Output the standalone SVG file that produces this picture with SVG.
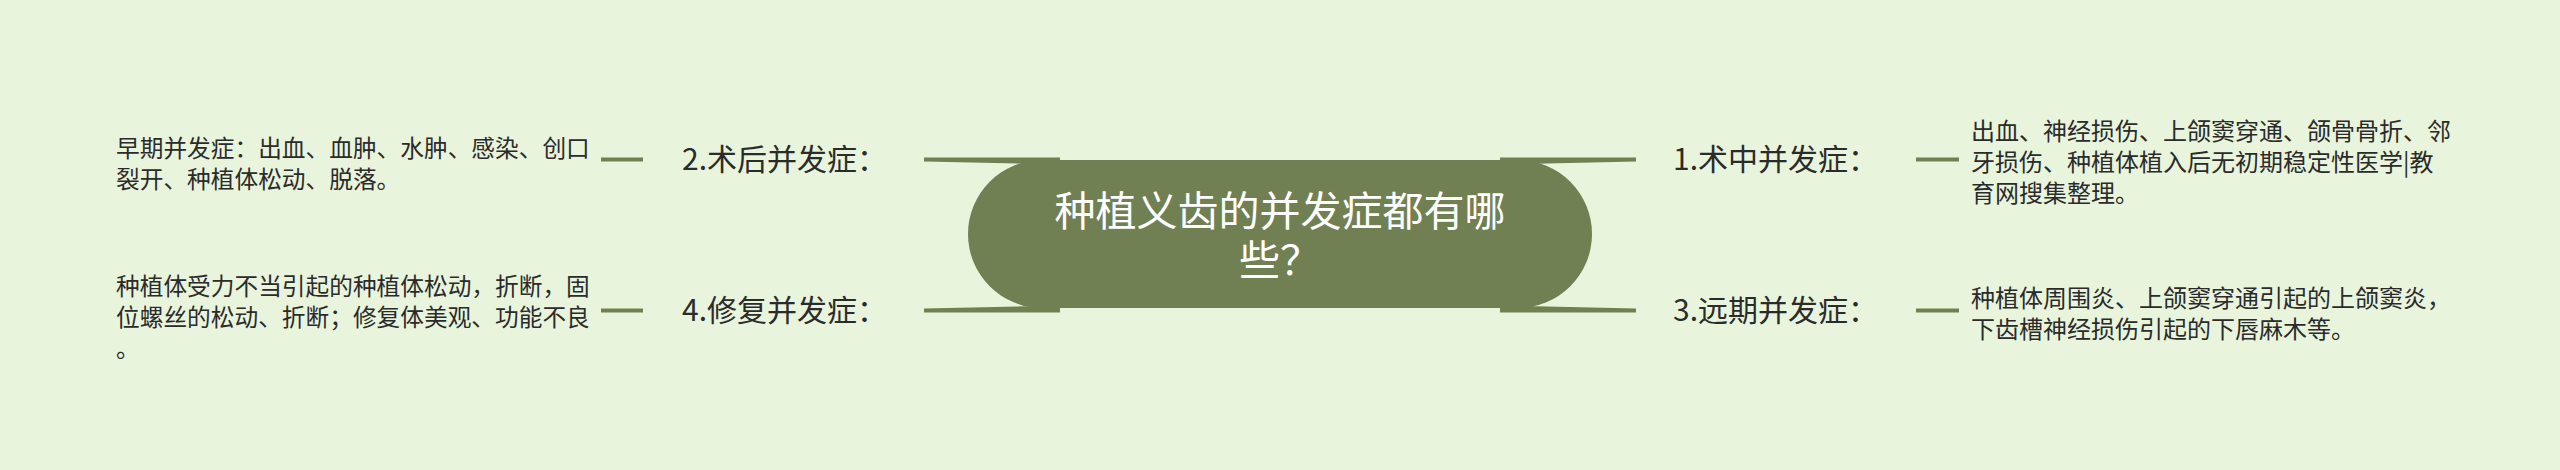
<svg xmlns="http://www.w3.org/2000/svg" width="2560" height="470" viewBox="0 0 2560 470">
<style>
.t{font-family:"Noto Sans CJK SC","Noto Sans",sans-serif;fill:#2b2b2b;}
.lbl{font-size:30px;}
.det{font-size:24px;}
.detl{font-size:23.7px;}
.ctr{font-family:"Noto Sans CJK SC","Noto Sans",sans-serif;font-size:41px;fill:#ffffff;}
.br{fill:#718052;}
.sl{stroke:#718052;stroke-width:4;}
</style>
<rect x="0" y="0" width="2560" height="470" fill="#e8f5dc"/>
<g id="connectors">
<path class="br" d="M924,157.5 L1060,157.5 L1060,172 L1035,164 L924,161.5 Z"/>
<path class="br" d="M924,312.5 L1060,312.5 L1060,298 L1035,306 L924,308.5 Z"/>
<path class="br" d="M1636,157.5 L1500,157.5 L1500,172 L1525,164 L1636,161.5 Z"/>
<path class="br" d="M1636,312.5 L1500,312.5 L1500,298 L1525,306 L1636,308.5 Z"/>
<line class="sl" x1="601" y1="159.5" x2="643" y2="159.5"/>
<line class="sl" x1="601" y1="310.5" x2="643" y2="310.5"/>
<line class="sl" x1="1916" y1="159.5" x2="1959" y2="159.5"/>
<line class="sl" x1="1916" y1="310.5" x2="1959" y2="310.5"/>
</g>
<g id="center">
<rect x="968" y="160" width="624" height="148" rx="74" ry="74" fill="#718052"/>
<text class="ctr" text-anchor="middle"><tspan x="1280" y="226">种植义齿的并发症都有哪</tspan><tspan x="1280" y="275">些？</tspan></text>
</g>
<g id="n1">
<text class="t lbl" x="1673" y="170">1.术中并发症：</text>
</g>
<g id="n1d">
<text class="t det" x="1971" y="140">出血、神经损伤、上颌窦穿通、颌骨骨折、邻</text>
<text class="t det" x="1971" y="171">牙损伤、种植体植入后无初期稳定性医学|教</text>
<text class="t det" x="1971" y="202">育网搜集整理。</text>
</g>
<g id="n2">
<text class="t lbl" x="682" y="170">2.术后并发症：</text>
</g>
<g id="n2d">
<text class="t detl" x="116" y="157">早期并发症：出血、血肿、水肿、感染、创口</text>
<text class="t detl" x="116" y="188">裂开、种植体松动、脱落。</text>
</g>
<g id="n3">
<text class="t lbl" x="1673" y="321">3.远期并发症：</text>
</g>
<g id="n3d">
<text class="t det" x="1971" y="307">种植体周围炎、上颌窦穿通引起的上颌窦炎，</text>
<text class="t det" x="1971" y="338">下齿槽神经损伤引起的下唇麻木等。</text>
</g>
<g id="n4">
<text class="t lbl" x="682" y="321">4.修复并发症：</text>
</g>
<g id="n4d">
<text class="t detl" x="116" y="295">种植体受力不当引起的种植体松动，折断，固</text>
<text class="t detl" x="116" y="326">位螺丝的松动、折断；修复体美观、功能不良</text>
<text class="t detl" x="116" y="357">。</text>
</g>
</svg>
